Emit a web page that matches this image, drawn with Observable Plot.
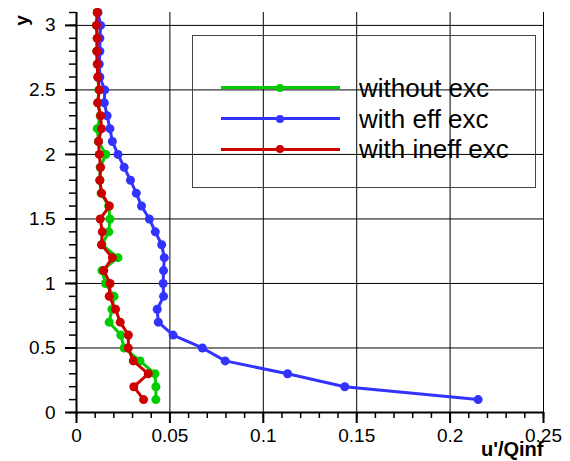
<!DOCTYPE html>
<html>
<head>
<meta charset="utf-8">
<script src="https://cdn.jsdelivr.net/npm/d3@7"></script>
<script src="https://cdn.jsdelivr.net/npm/@observablehq/plot@0.6"></script>
<style>
  html, body { margin: 0; padding: 0; background: #fff; }
  #wrap { position: relative; width: 570px; height: 461px; font-family: "Liberation Sans", Arial, sans-serif; }
  #legend { position: absolute; left: 192px; top: 35px; width: 344px; height: 153px; box-sizing: border-box; border: 1px solid #444; }
  .row { position: absolute; left: 0; height: 0; }
  .lline { position: absolute; left: 28px; width: 119px; height: 3px; top: -1.5px; }
  .ldot { position: absolute; left: 83px; width: 8px; height: 8px; top: -4px; border-radius: 50%; }
  .ltext { position: absolute; left: 166px; top: -15px; font-size: 26px; line-height: 30px; color: #000; white-space: nowrap; }
</style>
</head>
<body>
<div id="wrap"><div id="legend"></div></div>
<script>
// ---- data ----
const yLevels = [0.1, 0.2, 0.3, 0.4, 0.5, 0.6, 0.7, 0.8, 0.9, 1.0,
                 1.1, 1.2, 1.3, 1.4, 1.5, 1.6, 1.7, 1.8, 1.9, 2.0,
                 2.1, 2.2, 2.3, 2.4, 2.5, 2.6, 2.7, 2.8, 2.9, 3.0, 3.1];

const withoutExc = [0.0425, 0.0425, 0.0420, 0.0340, 0.0255, 0.0237, 0.0175, 0.0190, 0.0201, 0.0155,
                    0.0136, 0.0222, 0.0136, 0.0173, 0.0179, 0.0172, 0.0132, 0.0125, 0.0127, 0.0157,
                    0.0118, 0.0111, 0.0127, 0.0115, 0.0120, 0.0114, 0.0111, 0.0109, 0.0111, 0.0107, 0.0111];

const withEffExc = [0.2150, 0.1436, 0.1130, 0.0796, 0.0674, 0.0517, 0.0438, 0.0432, 0.0466, 0.0464,
                    0.0466, 0.0470, 0.0456, 0.0422, 0.0390, 0.0348, 0.0320, 0.0289, 0.0255, 0.0222,
                    0.0192, 0.0179, 0.0164, 0.0149, 0.0151, 0.0125, 0.0122, 0.0125, 0.0125, 0.0129, 0.0115];

const withIneffExc = [0.0359, 0.0307, 0.0384, 0.0304, 0.0277, 0.0278, 0.0234, 0.0209, 0.0175, 0.0180,
                      0.0146, 0.0192, 0.0134, 0.0138, 0.0127, 0.0176, 0.0134, 0.0125, 0.0129, 0.0122,
                      0.0118, 0.0134, 0.0129, 0.0113, 0.0122, 0.0114, 0.0111, 0.0109, 0.0111, 0.0107, 0.0111];

const seriesNames = ["without exc", "with eff exc", "with ineff exc"];
const seriesColors = ["#00cc00", "#3333ff", "#cc0000"];

const xTicks = [0, 0.05, 0.1, 0.15, 0.2, 0.25];
const xTickLabels = ["0", "0.05", "0.1", "0.15", "0.2", "0.25"];
const yTicks = [0, 0.5, 1, 1.5, 2, 2.5, 3];
const yTickLabels = ["0", "0.5", "1", "1.5", "2", "2.5", "3"];
const xTitle = "u'/Qinf";
const yTitle = "y";

// ---- build ----
const seriesValues = [withoutExc, withEffExc, withIneffExc];
const seriesData = seriesValues.map((vals, i) =>
  vals.map((v, j) => ({series: seriesNames[i], x: v, y: yLevels[j]})));

const xMinor = d3.range(0, 0.2501, 0.01).map(v => +v.toFixed(3));
const yMinor = d3.range(0, 3.101, 0.1).map(v => +v.toFixed(2));

const chart = Plot.plot({
  width: 570,
  height: 461,
  marginLeft: 76,
  marginRight: 27,
  marginTop: 12,
  marginBottom: 49,
  style: {fontFamily: "'Liberation Sans', Arial, sans-serif", background: "white", color: "#000", overflow: "visible"},
  x: {domain: [0, 0.25], label: null},
  y: {domain: [0, 3.1], label: null},
  marks: [
    Plot.ruleX(xTicks.slice(1), {stroke: "#000", strokeWidth: 1}),
    Plot.ruleY(yTicks.slice(1), {stroke: "#000", strokeWidth: 1}),
    Plot.axisX({ticks: xMinor, tickSize: 6, tickFormat: () => "", strokeWidth: 1.5, label: null}),
    Plot.axisY({ticks: yMinor, tickSize: 7, tickFormat: () => "", strokeWidth: 1.5, label: null}),
    Plot.axisX({ticks: xTicks, tickSize: 11, tickPadding: 5, strokeWidth: 2, fontSize: 19,
                tickFormat: d => xTickLabels[xTicks.indexOf(d)], label: null}),
    Plot.axisY({ticks: yTicks, tickSize: 11, tickPadding: 10, strokeWidth: 2, fontSize: 19,
                tickFormat: d => yTickLabels[yTicks.indexOf(d)], label: null}),
    Plot.ruleX([0], {stroke: "#000", strokeWidth: 2}),
    Plot.ruleY([0], {stroke: "#000", strokeWidth: 2}),
    ...seriesData.flatMap((data, i) => [
      Plot.line(data, {x: "x", y: "y", stroke: seriesColors[i], strokeWidth: 3}),
      Plot.dot(data, {x: "x", y: "y", r: 4.5, fill: seriesColors[i], stroke: "none"})
    ]),
    Plot.text([xTitle], {text: d => d, frameAnchor: "bottom-right", textAnchor: "end", lineAnchor: "middle",
                         dy: 37, fontSize: 20, fontWeight: "bold", fill: "#000"}),
    Plot.text([yTitle], {text: d => d, frameAnchor: "top-left", textAnchor: "middle", lineAnchor: "middle",
                         rotate: -90, dx: -55, dy: 8, fontSize: 19, fontWeight: "bold", fill: "#000"})
  ]
});

const wrap = document.getElementById("wrap");
wrap.insertBefore(chart, wrap.firstChild);

// legend overlay
const legend = document.getElementById("legend");
const rowTops = [51.7, 82.7, 113.3];
seriesNames.forEach((name, i) => {
  const row = document.createElement("div");
  row.className = "row";
  row.style.top = rowTops[i] + "px";
  row.innerHTML = `<div class="lline" style="background:${seriesColors[i]}"></div>` +
                  `<div class="ldot" style="background:${seriesColors[i]}"></div>` +
                  `<div class="ltext">${name}</div>`;
  legend.appendChild(row);
});
</script>
</body>
</html>
